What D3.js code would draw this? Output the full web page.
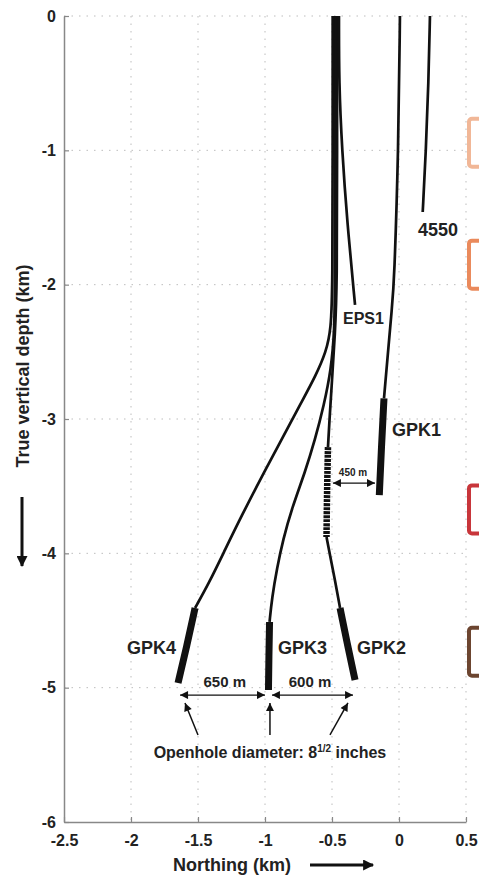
<!DOCTYPE html>
<html>
<head>
<meta charset="utf-8">
<script src="https://cdn.jsdelivr.net/npm/d3@7"></script>
<style>
body { margin: 0; background: #fff; }
text { font-family: Arial, "Liberation Sans", sans-serif; font-weight: bold; fill: #222; }
</style>
</head>
<body>
<svg id="chart" width="479" height="876"></svg>
<script>
// ticks
var xTicks = [-2.5, -2, -1.5, -1, -0.5, 0, 0.5];
var yTicks = [0, -1, -2, -3, -4, -5, -6];

// well trajectories, [northing km, depth km]
var gpk1 = [[0.007, 0], [-0.004, -1], [-0.037, -2], [-0.048, -2.114], [-0.112, -2.846]];
var gpk1Open = [[-0.112, -2.846], [-0.131, -3.209], [-0.147, -3.566]];
var gpk2 = [[-0.462, 0], [-0.462, -1], [-0.462, -2], [-0.478, -2.375], [-0.5, -2.71], [-0.519, -3.008], [-0.53, -3.209]];
var gpk2Old = [[-0.53, -3.209], [-0.537, -3.529], [-0.541, -3.879]];
var gpk2Deep = [[-0.541, -3.879], [-0.515, -4.013], [-0.478, -4.199], [-0.44, -4.407]];
var gpk2Open = [[-0.44, -4.407], [-0.384, -4.683], [-0.328, -4.943]];
var gpk3 = [[-0.478, 0], [-0.478, -1], [-0.478, -2], [-0.481, -2.338], [-0.507, -2.635], [-0.56, -2.896], [-0.627, -3.156],
            [-0.701, -3.395], [-0.799, -3.663], [-0.866, -3.901], [-0.91, -4.109], [-0.948, -4.332], [-0.966, -4.511]];
var gpk3Open = [[-0.966, -4.511], [-0.971, -4.76], [-0.974, -5.017]];
var gpk4 = [[-0.495, 0], [-0.495, -1], [-0.496, -2.003], [-0.507, -2.338], [-0.545, -2.501], [-0.619, -2.673], [-0.731, -2.881],
            [-0.858, -3.119], [-1.007, -3.395], [-1.172, -3.715], [-1.299, -3.975], [-1.418, -4.221], [-1.522, -4.407]];
var gpk4Open = [[-1.522, -4.407], [-1.582, -4.683], [-1.649, -4.965]];
var eps1 = [[-0.448, 0], [-0.448, -0.499], [-0.425, -0.998], [-0.388, -1.519], [-0.328, -2.151]];
var well4550 = [[0.231, 0], [0.22, -0.499], [0.201, -0.998], [0.177, -1.459]];

// well labels
var wellLabels = ["GPK1", "EPS1", "4550", "GPK4", "GPK3", "GPK2"];
var wellLabelPos = [[-0.052, -3.082], [-0.418, -2.248], [0.142, -1.593], [-1.664, -4.705], [-0.903, -4.705], [-0.313, -4.705]];
var wellLabelAnchor = ["start", "start", "start", "end", "start", "start"];

// distance markers
var distLabels = ["450 m", "650 m", "600 m"];
var distFrom = [[-0.493, -3.477], [-1.634, -5.055], [-0.948, -5.055]];
var distTo = [[-0.179, -3.477], [-1.0, -5.055], [-0.343, -5.055]];
var distText = [[-0.343, -3.395], [-1.3, -4.958], [-0.664, -4.958]];

// openhole pointers
var ohFrom = [[-1.5, -5.352], [-0.963, -5.352], [-0.515, -5.352]];
var ohTo = [[-1.597, -5.114], [-0.963, -5.114], [-0.381, -5.114]];

// clipped legend boxes on right edge
var legendDepth = [-0.944, -1.851, -3.673, -4.733];
var legendColors = ["#f1b797", "#ea8a5c", "#c8363b", "#6c4530"];

var margin = {top: 16, left: 64, right: 13, bottom: 54};
var W = 479, H = 876;
var svg = d3.select("#chart");

var x = d3.scaleLinear().domain([-2.5, 0.5]).range([margin.left, W - margin.right]);
var y = d3.scaleLinear().domain([0, -6]).range([margin.top, H - margin.bottom]);

var defs = svg.append("defs");
defs.append("marker").attr("id", "head").attr("viewBox", "0 0 10 10")
  .attr("refX", 10).attr("refY", 5).attr("markerWidth", 9).attr("markerHeight", 8)
  .attr("markerUnits", "userSpaceOnUse").attr("orient", "auto-start-reverse")
  .append("path").attr("d", "M0,0 L10,5 L0,10 z").attr("fill", "#111");
defs.append("marker").attr("id", "bighead").attr("viewBox", "0 0 10 10")
  .attr("refX", 9).attr("refY", 5).attr("markerWidth", 14).attr("markerHeight", 11)
  .attr("markerUnits", "userSpaceOnUse").attr("orient", "auto")
  .append("path").attr("d", "M0,0 L10,5 L0,10 z").attr("fill", "#111");

// grid
svg.append("g").selectAll("line").data(xTicks.slice(1)).enter().append("line")
  .attr("x1", function(d){ return x(d); }).attr("x2", function(d){ return x(d); })
  .attr("y1", y(0)).attr("y2", y(-6))
  .attr("stroke", "#bdbdbd").attr("stroke-width", 1).attr("stroke-dasharray", "1.5,6");
svg.append("g").selectAll("line").data(yTicks.slice(0, -1)).enter().append("line")
  .attr("y1", function(d){ return y(d); }).attr("y2", function(d){ return y(d); })
  .attr("x1", x(-2.5)).attr("x2", x(0.5))
  .attr("stroke", "#bdbdbd").attr("stroke-width", 1).attr("stroke-dasharray", "1.5,6");

// axes
var yAxis = svg.append("g").attr("transform", "translate(" + margin.left + ",0)")
  .call(d3.axisLeft(y).tickValues(yTicks).tickSizeInner(-5).tickSizeOuter(0).tickPadding(8)
    .tickFormat(function(d){ return String(d); }));
var xAxis = svg.append("g").attr("transform", "translate(0," + y(-6) + ")")
  .call(d3.axisBottom(x).tickValues(xTicks).tickSizeInner(-5).tickSizeOuter(0).tickPadding(13)
    .tickFormat(function(d){ return String(d); }));
[yAxis, xAxis].forEach(function(a){
  a.select(".domain").attr("stroke", "#888").attr("stroke-width", 1.5);
  a.selectAll(".tick line").attr("stroke", "#888").attr("stroke-width", 1.2);
  a.selectAll("text").attr("font-size", 16).attr("fill", "#222")
    .attr("font-family", "Arial, 'Liberation Sans', sans-serif").attr("font-weight", "bold");
});

// wells
var line = d3.line().x(function(d){ return x(d[0]); }).y(function(d){ return y(d[1]); })
  .curve(d3.curveBasis);
var wells = svg.append("g").attr("fill", "none").attr("stroke", "#111").attr("stroke-linecap", "butt");
[gpk1, gpk2, gpk2Deep, gpk3, gpk4, eps1, well4550].forEach(function(p){
  wells.append("path").attr("d", line(p)).attr("stroke-width", 2.7);
});
[gpk1Open, gpk2Open, gpk3Open, gpk4Open].forEach(function(p){
  wells.append("path").attr("d", line(p)).attr("stroke-width", 7);
});
wells.append("path").attr("d", line(gpk2Old)).attr("stroke-width", 6.5).attr("stroke-dasharray", "3,1");

// legend boxes (cut by the page edge)
svg.append("g").selectAll("rect").data(legendDepth).enter().append("rect")
  .attr("x", 469).attr("y", function(d){ return y(d) - 24; })
  .attr("width", 40).attr("height", 48).attr("rx", 3)
  .attr("fill", "none").attr("stroke-width", 4)
  .attr("stroke", function(d, i){ return legendColors[i]; });

// well labels
svg.append("g").selectAll("text").data(wellLabels).enter().append("text")
  .attr("x", function(d, i){ return x(wellLabelPos[i][0]); })
  .attr("y", function(d, i){ return y(wellLabelPos[i][1]); })
  .attr("dy", "0.35em").attr("font-size", function(d){ return d == "EPS1" ? 16 : 18; })
  .attr("text-anchor", function(d, i){ return wellLabelAnchor[i]; })
  .text(function(d){ return d; });

// distances
var dist = svg.append("g");
distLabels.forEach(function(t, i){
  dist.append("line")
    .attr("x1", x(distFrom[i][0])).attr("y1", y(distFrom[i][1]))
    .attr("x2", x(distTo[i][0])).attr("y2", y(distTo[i][1]))
    .attr("stroke", "#111").attr("stroke-width", 1.3)
    .attr("marker-start", "url(#head)").attr("marker-end", "url(#head)");
  dist.append("text").attr("x", x(distText[i][0])).attr("y", y(distText[i][1]))
    .attr("dy", "0.35em").attr("text-anchor", "middle")
    .attr("font-size", i == 0 ? 10 : 15).text(t);
});

// openhole note
ohFrom.forEach(function(f, i){
  dist.append("line")
    .attr("x1", x(f[0])).attr("y1", y(f[1]))
    .attr("x2", x(ohTo[i][0])).attr("y2", y(ohTo[i][1]))
    .attr("stroke", "#111").attr("stroke-width", 1.5)
    .attr("marker-end", "url(#head)");
});
var note = svg.append("text").attr("x", x(-0.963)).attr("y", y(-5.479))
  .attr("dy", "0.35em").attr("text-anchor", "middle").attr("font-size", 16);
note.append("tspan").text("Openhole diameter: 8");
note.append("tspan").attr("font-size", 10).attr("dy", "-0.6em").text("1/2");
note.append("tspan").attr("dy", "0.38em").text(" inches");

// axis titles
svg.append("text").attr("transform", "translate(23,366) rotate(-90)")
  .attr("dy", "0.35em").attr("text-anchor", "middle").attr("font-size", 18)
  .text("True vertical depth (km)");
svg.append("line").attr("x1", 22).attr("y1", 497).attr("x2", 22).attr("y2", 566)
  .attr("stroke", "#111").attr("stroke-width", 3).attr("marker-end", "url(#bighead)");
svg.append("text").attr("x", 232).attr("y", 865)
  .attr("dy", "0.35em").attr("text-anchor", "middle").attr("font-size", 18)
  .text("Northing (km)");
svg.append("line").attr("x1", 310).attr("y1", 865).attr("x2", 373).attr("y2", 865)
  .attr("stroke", "#111").attr("stroke-width", 3).attr("marker-end", "url(#bighead)");
</script>
</body>
</html>
